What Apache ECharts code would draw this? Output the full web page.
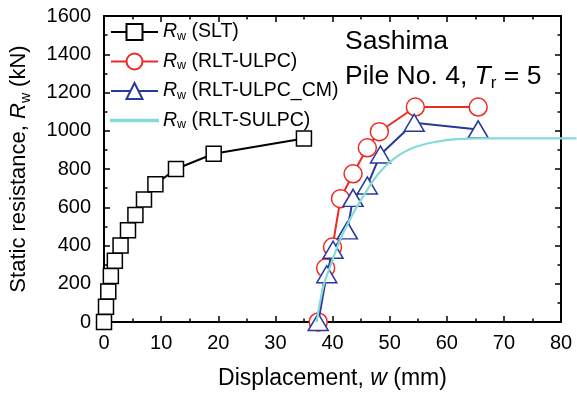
<!DOCTYPE html>
<html>
<head>
<meta charset="utf-8">
<script src="https://cdn.jsdelivr.net/npm/echarts@6/dist/echarts.min.js"></script>
<style>html,body{margin:0;padding:0;background:#fff}#c{width:577px;height:400px}</style>
</head>
<body>
<div id="c"></div>
<script>
// Data
var sltX = [0, 0.35, 0.75, 1.2, 1.9, 2.9, 4.2, 5.5, 7.0, 9.0, 12.6, 19.2, 35.0];
var sltY = [0, 80, 160, 240, 320, 400, 480, 560, 640, 720, 800, 880, 960];

var ulpcX = [37.5, 38.8, 40.0, 41.4, 43.6, 46.1, 48.2, 54.5, 65.5];
var ulpcY = [0, 282, 392, 645, 775, 911, 995, 1124, 1124];

var cmX = [37.5, 39.0, 40.1, 42.6, 43.6, 46.1, 48.4, 54.3, 65.5];
var cmY = [0, 250, 378, 479, 649, 714, 876, 1042, 1007];

var sulpcX = [37.5, 38.7, 39.8, 41.6, 43.9, 45.6, 47.9, 50.8, 54.3, 58.9, 62.0, 66.0, 70.0, 75.0, 80.0, 82.7];
var sulpcY = [0, 190, 285, 430, 570, 657, 762, 850, 911, 946, 956, 960, 960, 960, 960, 960];

var seriesNames = ['SLT', 'RLT-ULPC', 'RLT-ULPC_CM', 'RLT-SULPC'];
var xTicks = {min: 0, max: 80, interval: 10};
var yTicks = {min: 0, max: 1600, interval: 200};

function pairs(xs, ys) { return xs.map(function (x, i) { return [x, ys[i]]; }); }

var FONT = '"Liberation Sans", Arial, Helvetica, sans-serif';
var GRID_L = 101, GRID_R = 16, GRID_T = 16, GRID_B = 78, W = 577;
var chart = echarts.init(document.getElementById('c'), null, {renderer: 'canvas'});

function axisBase(show, margin) {
  return {
    type: 'value',
    axisLine: {show: true, onZero: false, lineStyle: {color: '#000', width: 2}},
    axisTick: {show: true, inside: true, length: 6, lineStyle: {color: '#000', width: 1.5}},
    minorTick: {show: true, splitNumber: 2, length: 3.5, lineStyle: {color: '#000', width: 1.5}},
    splitLine: {show: false},
    axisLabel: {show: show, color: '#000', fontSize: 20, fontFamily: FONT, margin: margin || 11,
                formatter: function (v) { return String(v); }}
  };
}

var xBottom = Object.assign(axisBase(true, 11), {
  gridIndex: 0, position: 'bottom', min: xTicks.min, max: xTicks.max, interval: xTicks.interval,
  name: '{n|Displacement, }{i|w}{n| (mm)}', nameLocation: 'middle', nameGap: 44,
  nameTextStyle: {rich: {
    n: {fontSize: 23, fontFamily: FONT, color: '#000', lineHeight: 26},
    i: {fontSize: 23, fontFamily: FONT, color: '#000', fontStyle: 'italic', lineHeight: 26}
  }}
});
var xTop = Object.assign(axisBase(false), {gridIndex: 0, position: 'top', min: xTicks.min, max: xTicks.max, interval: xTicks.interval});
var yLeft = Object.assign(axisBase(true, 13), {
  gridIndex: 0, position: 'left', min: yTicks.min, max: yTicks.max, interval: yTicks.interval,
  name: '{n|Static resistance, }{i|R}{s|w}{n| (kN)}', nameLocation: 'middle', nameGap: 71,
  nameTextStyle: {rich: {
    n: {fontSize: 22, fontFamily: FONT, color: '#000', lineHeight: 28},
    i: {fontSize: 22, fontFamily: FONT, color: '#000', fontStyle: 'italic', lineHeight: 28},
    s: {fontSize: 14, fontFamily: FONT, color: '#000', lineHeight: 14, verticalAlign: 'bottom'}
  }}
});
var yRight = Object.assign(axisBase(false), {gridIndex: 0, position: 'right', min: yTicks.min, max: yTicks.max, interval: yTicks.interval});

// Hidden overlay axes: same scale as the main grid, but the grid reaches the right edge of the
// canvas, so the fitted curve can run past x = 80 as it does in the reference.
var plotW = W - GRID_L - GRID_R;
var wideW = W - GRID_L;
var xWide = {type: 'value', gridIndex: 1, min: 0, max: xTicks.max * wideW / plotW, show: false};
var yWide = {type: 'value', gridIndex: 1, min: yTicks.min, max: yTicks.max, show: false};

function mk(name, data, color, symbol, size, z) {
  return {
    name: name, type: 'line', data: data, z: z,
    symbol: symbol, symbolSize: size, showSymbol: symbol !== 'none',
    lineStyle: {color: color, width: 2},
    itemStyle: {color: '#fff', borderColor: color, borderWidth: 1.5},
    emphasis: {disabled: true}, animation: false, clip: false
  };
}

var cyanSeries = mk(seriesNames[3], pairs(sulpcX, sulpcY), '#86dbd6', 'none', 0, 5);
cyanSeries.smooth = 0.4;
cyanSeries.lineStyle.width = 2.2;
cyanSeries.xAxisIndex = 2;
cyanSeries.yAxisIndex = 2;

chart.setOption({
  backgroundColor: '#fff',
  animation: false,
  grid: [
    {left: GRID_L, right: GRID_R, top: GRID_T, bottom: GRID_B, containLabel: false},
    {left: GRID_L, right: 0, top: GRID_T, bottom: GRID_B, containLabel: false}
  ],
  xAxis: [xBottom, xTop, xWide],
  yAxis: [yLeft, yRight, yWide],
  legend: {
    orient: 'vertical', left: 105, top: 17, itemWidth: 47, itemHeight: 20, itemGap: 8.5,
    data: [
      {name: seriesNames[0]}, {name: seriesNames[1]}, {name: seriesNames[2]},
      {name: seriesNames[3], icon: 'path://M0,0L60,0L60,2.2L0,2.2Z'}
    ],
    formatter: function (n) { return '{i|R}{s|w}{n| (' + n + ')}'; },
    textStyle: {rich: {
      n: {fontSize: 19.5, fontFamily: FONT, color: '#000', lineHeight: 22},
      i: {fontSize: 19.5, fontFamily: FONT, color: '#000', fontStyle: 'italic', lineHeight: 22},
      s: {fontSize: 12.5, fontFamily: FONT, color: '#000', lineHeight: 12, verticalAlign: 'bottom'}
    }},
    selectedMode: false
  },
  graphic: [
    {type: 'text', left: 345, top: 28, style: {text: 'Sashima', font: '26.5px ' + FONT, fill: '#000'}},
    {type: 'text', left: 345, top: 63, style: {
      text: '{n|Pile No. 4, }{i|T}{s|r}{n| = 5}',
      rich: {
        n: {fontSize: 26.5, fontFamily: FONT, fill: '#000', lineHeight: 31},
        i: {fontSize: 26.5, fontFamily: FONT, fill: '#000', fontStyle: 'italic', lineHeight: 31},
        s: {fontSize: 17, fontFamily: FONT, fill: '#000', lineHeight: 17, verticalAlign: 'bottom'}
      }
    }}
  ],
  series: [
    mk(seriesNames[0], pairs(sltX, sltY), '#000', 'rect', 15, 2),
    mk(seriesNames[1], pairs(ulpcX, ulpcY), '#ee2a24', 'circle', 18, 3),
    mk(seriesNames[2], pairs(cmX, cmY), '#27399d', 'triangle', [20, 17], 4),
    cyanSeries
  ]
});
</script>
</body>
</html>
